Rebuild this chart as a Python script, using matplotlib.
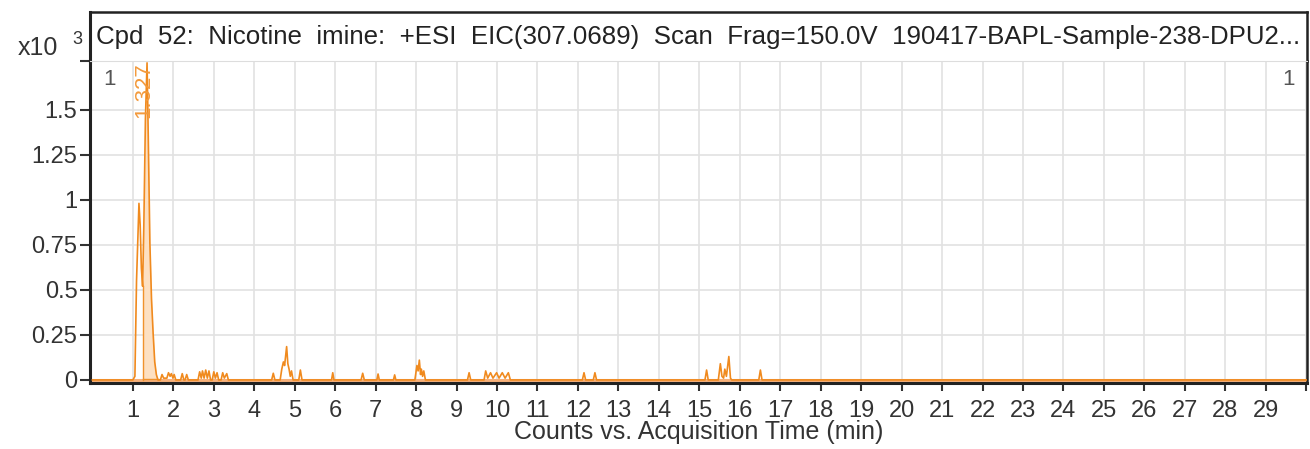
import numpy as np
import matplotlib
matplotlib.use("Agg")
import matplotlib.pyplot as plt

plt.rcParams['font.family'] = ['Liberation Sans', 'DejaVu Sans']

# EIC trace, counts in units of 10^3 vs acquisition time (min)
rt_min = [0.00, 1.00, 1.05, 1.09, 1.15, 1.18, 1.21, 1.24, 1.27, 1.31, 1.35, 1.38, 1.42, 1.46, 1.50, 1.54, 1.58, 1.62,
          1.68, 1.72, 1.76, 1.84, 1.88, 1.92, 1.95, 1.99, 2.02, 2.06, 2.18, 2.22, 2.26, 2.29, 2.33, 2.37,
          2.61, 2.65, 2.69, 2.72, 2.76, 2.80, 2.84, 2.88, 2.92, 2.96, 3.00, 3.04, 3.08, 3.12, 3.18, 3.22, 3.26, 3.32, 3.36,
          4.43, 4.47, 4.51, 4.64, 4.68, 4.72, 4.75, 4.80, 4.83, 4.86, 4.89, 4.92, 4.96, 5.10, 5.14, 5.18,
          5.91, 5.94, 5.97, 6.64, 6.68, 6.72, 7.03, 7.06, 7.09, 7.44, 7.47, 7.50,
          7.97, 8.02, 8.05, 8.08, 8.11, 8.13, 8.16, 8.19, 8.23,
          9.27, 9.31, 9.35, 9.68, 9.72, 9.77, 9.84, 9.90, 9.99, 10.05, 10.13, 10.20, 10.28, 10.33,
          12.11, 12.15, 12.19, 12.38, 12.42, 12.46,
          15.14, 15.18, 15.22, 15.47, 15.52, 15.56, 15.60, 15.63, 15.67, 15.73, 15.77, 15.80,
          16.47, 16.51, 16.55, 30.00]
counts_e3 = [0.00, 0.00, 0.02, 0.55, 0.98, 0.86, 0.62, 0.52, 0.85, 1.45, 1.76, 1.35, 0.76, 0.45, 0.26, 0.10, 0.03, 0.00,
             0.00, 0.03, 0.01, 0.01, 0.04, 0.02, 0.035, 0.01, 0.03, 0.00, 0.00, 0.035, 0.00, 0.00, 0.03, 0.00,
             0.00, 0.045, 0.01, 0.05, 0.01, 0.055, 0.01, 0.05, 0.00, 0.00, 0.045, 0.01, 0.04, 0.00, 0.00, 0.04, 0.01, 0.035, 0.00,
             0.00, 0.037, 0.00, 0.00, 0.06, 0.10, 0.08, 0.185, 0.09, 0.06, 0.02, 0.05, 0.00, 0.00, 0.055, 0.00,
             0.00, 0.04, 0.00, 0.00, 0.037, 0.00, 0.00, 0.033, 0.00, 0.00, 0.028, 0.00,
             0.00, 0.08, 0.05, 0.11, 0.03, 0.06, 0.02, 0.05, 0.00,
             0.00, 0.04, 0.00, 0.00, 0.05, 0.01, 0.04, 0.01, 0.04, 0.01, 0.04, 0.01, 0.04, 0.00,
             0.00, 0.04, 0.00, 0.00, 0.04, 0.00,
             0.00, 0.055, 0.00, 0.00, 0.09, 0.02, 0.01, 0.06, 0.02, 0.13, 0.01, 0.00,
             0.00, 0.055, 0.00, 0.00]

# integrated peak window and its label
peak_start = 1.24
peak_end = 1.62
peak_rt = 1.35
peak_label = "1.327"

x_ticks = list(range(1, 31))
x_labels = [str(i) for i in range(1, 30)] + [""]
y_ticks = [0, 0.25, 0.5, 0.75, 1, 1.25, 1.5, 1.77]
y_labels = ["0", "0.25", "0.5", "0.75", "1", "1.25", "1.5", ""]

title = "Cpd  52:  Nicotine  imine:  +ESI  EIC(307.0689)  Scan  Frag=150.0V  190417-BAPL-Sample-238-DPU2..."
x_title = "Counts vs. Acquisition Time (min)"

W, H = 1310, 449
fig = plt.figure(figsize=(W / 100, H / 100), dpi=100)

left, right = 90 / W, 1307 / W
bottom, top = 1 - 383 / H, 1 - 61 / H
head_top = 1 - 12 / H

ax = fig.add_axes([left, bottom, right - left, top - bottom])
x = np.array(rt_min)
y = np.array(counts_e3)

ax.axhline(0, color="#f6b07a", lw=2.2, zorder=2)
mask = (x >= peak_start) & (x <= peak_end)
ax.fill_between(x[mask], 0, y[mask], color="#fde0c2", lw=0, zorder=1)
ax.plot([peak_start, peak_start], [0, np.interp(peak_start, x, y)], color="#f0922c", lw=1.0, zorder=3)
ax.plot([peak_start, peak_end], [0.004, 0.004], color="#f0922c", lw=1.0, zorder=3)
ax.plot(x, y, color="#f08a1e", lw=1.2, zorder=4)

ax.text(peak_rt - 0.07, 1.765, peak_label, rotation=90, ha="center", va="top",
        color="#f39a3c", fontsize=16, zorder=5)

ax.set_xlim(-0.06, 30.02)
ax.set_ylim(-0.017, 1.77)
ax.set_xticks(x_ticks)
ax.set_xticklabels(x_labels, fontsize=17, color="#333333")
ax.set_yticks(y_ticks)
ax.set_yticklabels(y_labels, fontsize=17, color="#333333")
ax.grid(True, color="#e2e2e2", lw=1.2)
ax.set_axisbelow(True)
ax.tick_params(axis="x", direction="out", length=6, width=1.5, color="#333333", pad=6)
ax.tick_params(axis="y", direction="out", length=7, width=1.5, color="#333333", pad=2)

ax.spines["top"].set_visible(False)
ax.spines["left"].set_linewidth(2.2)
ax.spines["bottom"].set_linewidth(2.2)
ax.spines["right"].set_linewidth(1.8)
for s in ["left", "bottom", "right"]:
    ax.spines[s].set_color("#222222")

ax.set_xlabel(x_title, fontsize=18, color="#333333", labelpad=-1)

ax.text(0.011, 0.975, "1", transform=ax.transAxes, ha="left", va="top", fontsize=16, color="#555555")
ax.text(0.99, 0.975, "1", transform=ax.transAxes, ha="right", va="top", fontsize=16, color="#555555")

# header band with the compound title
head = fig.add_axes([left, top, right - left, head_top - top])
head.set_xticks([])
head.set_yticks([])
for s in ["top", "left", "right"]:
    head.spines[s].set_color("#222222")
head.spines["top"].set_linewidth(1.8)
head.spines["left"].set_linewidth(2.2)
head.spines["right"].set_linewidth(1.8)
head.spines["bottom"].set_color("#dddddd")
head.text(0.005, 0.48, title, ha="left", va="center", fontsize=18.6, color="#222222")

fig.text(18 / W, 1 - 48 / H, "x10", ha="left", va="center", fontsize=18, color="#333333")
fig.text(72 / W, 1 - 40 / H, "3", ha="left", va="center", fontsize=13, color="#333333")

fig.savefig("out.png", dpi=100)
